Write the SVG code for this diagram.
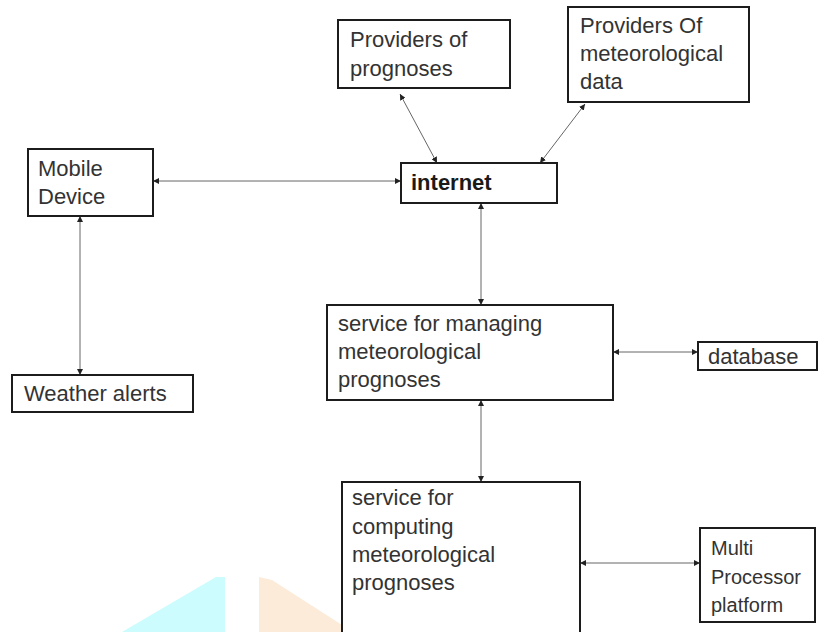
<svg xmlns="http://www.w3.org/2000/svg" width="818" height="632" viewBox="0 0 818 632">
<style>
.box{fill:#fff;stroke:#1c1c1c;stroke-width:2}
.t{font-family:"Liberation Sans",Arial,sans-serif;font-size:22px;fill:#333}
.b{font-weight:bold;fill:#1a1a1a}
.s{font-size:20px}
.c{stroke:#666;stroke-width:1;fill:none;marker-start:url(#ah);marker-end:url(#ah)}
</style>
<defs>
<marker id="ah" viewBox="0 0 8 8" refX="8" refY="4" markerWidth="6" markerHeight="6" markerUnits="userSpaceOnUse" orient="auto-start-reverse">
<path d="M0,0 L8,4 L0,8 z" fill="#222"/>
</marker>
</defs>
<rect width="818" height="632" fill="#fff"/>
<g id="watermark">
<polygon points="122,632 216,577 225,577 225,632" fill="#ccfcfd"/>
<polygon points="259,632 259,577 272,580 342,625 342,632" fill="#fdebd9"/>
</g>
<g id="connectors">
<line class="c" x1="153" y1="181" x2="401" y2="181"/>
<line class="c" x1="80" y1="216" x2="80" y2="375"/>
<line class="c" x1="400" y1="94" x2="437" y2="163"/>
<line class="c" x1="585" y1="104" x2="540" y2="163"/>
<line class="c" x1="481" y1="203" x2="481" y2="305"/>
<line class="c" x1="613" y1="352" x2="698" y2="352"/>
<line class="c" x1="481" y1="400" x2="481" y2="482"/>
<line class="c" x1="580" y1="563" x2="700" y2="563"/>
</g>
<g id="providers-prognoses">
<rect class="box" x="338" y="20" width="172" height="68"/>
<text class="t" x="350" y="47">Providers of</text>
<text class="t" x="350" y="76">prognoses</text>
</g>
<g id="providers-data">
<rect class="box" x="568" y="7" width="181" height="95"/>
<text class="t" x="580" y="33">Providers Of</text>
<text class="t" x="580" y="61">meteorological</text>
<text class="t" x="580" y="89">data</text>
</g>
<g id="mobile-device">
<rect class="box" x="28" y="149" width="125" height="67"/>
<text class="t" x="38" y="176">Mobile</text>
<text class="t" x="38" y="204">Device</text>
</g>
<g id="internet">
<rect class="box" x="401" y="163" width="156" height="40"/>
<text class="t b" x="411" y="190">internet</text>
</g>
<g id="weather-alerts">
<rect class="box" x="12" y="375" width="181" height="37"/>
<text class="t" x="24" y="401">Weather alerts</text>
</g>
<g id="managing">
<rect class="box" x="327" y="305" width="286" height="95"/>
<text class="t" x="338" y="331">service for managing</text>
<text class="t" x="338" y="359">meteorological</text>
<text class="t" x="338" y="387">prognoses</text>
</g>
<g id="database">
<rect class="box" x="698" y="342" width="119" height="28"/>
<text class="t" x="708" y="364">database</text>
</g>
<g id="computing">
<rect class="box" x="342" y="482" width="238" height="170"/>
<text class="t" x="352" y="505">service for</text>
<text class="t" x="352" y="534">computing</text>
<text class="t" x="352" y="562">meteorological</text>
<text class="t" x="352" y="590">prognoses</text>
</g>
<g id="multi-processor">
<rect class="box" x="700" y="528" width="115" height="94"/>
<text class="t s" x="711" y="555">Multi</text>
<text class="t s" x="711" y="584">Processor</text>
<text class="t s" x="711" y="612">platform</text>
</g>
</svg>
